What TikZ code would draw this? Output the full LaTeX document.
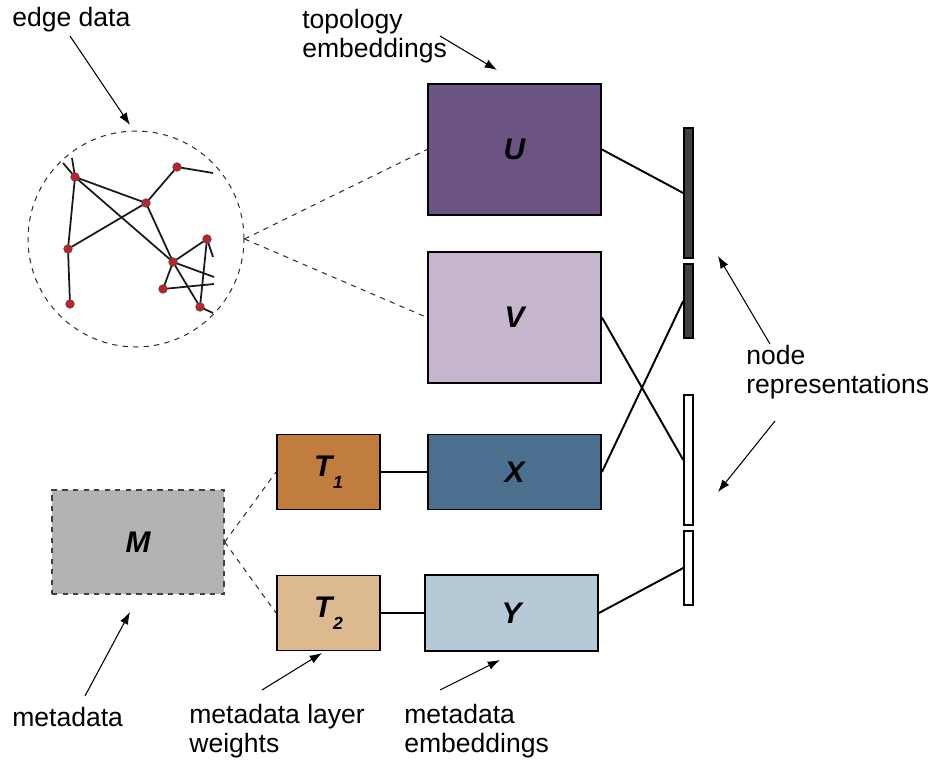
\documentclass[tikz,border=0pt]{standalone}
\usepackage{fontspec}
\setmainfont{Liberation Sans}
\usetikzlibrary{arrows, arrows.meta, positioning, calc}

\definecolor{topoU}{RGB}{107,84,131}
\definecolor{topoV}{RGB}{197,181,205}
\definecolor{metaX}{RGB}{74,111,143}
\definecolor{metaY}{RGB}{181,201,214}
\definecolor{layerA}{RGB}{192,125,62}
\definecolor{layerB}{RGB}{221,185,143}
\definecolor{metaM}{RGB}{179,179,179}
\definecolor{barDark}{RGB}{64,64,64}
\definecolor{dotRed}{RGB}{200,30,40}

% letter with a lowered index, as on the weight blocks
\newcommand{\lowidx}[2]{#1\kern0.5pt\raisebox{-7pt}{\fontsize{10}{10}\selectfont #2}}

\begin{document}
\begin{tikzpicture}[
    x=0.02cm, y=-0.02cm,
    box/.style={rectangle, draw, line width=1.1pt, font=\fontsize{17}{19}\selectfont\bfseries\itshape, inner sep=0pt},
    bigbox/.style={box, minimum width=3.46cm, minimum height=2.62cm},
    flatbox/.style={box, minimum width=3.46cm, minimum height=1.5cm},
    wbox/.style={box, minimum width=2.06cm, minimum height=1.5cm},
    bar/.style={rectangle, draw, line width=0.9pt, minimum width=0.18cm, inner sep=0pt},
    dot/.style={circle, draw=black!70, fill=dotRed, line width=0.4pt, minimum size=0.17cm, inner sep=0pt},
    link/.style={line width=1.1pt},
    gedge/.style={line width=1pt, black!90},
    hint/.style={draw, dashed, line width=0.6pt, black!80},
    label/.style={font=\fontsize{15.1}{16.5}\selectfont, align=left, inner sep=0pt},
    arrow/.style={-{Latex[length=7pt, width=5pt]}, line width=0.6pt}
]
\useasboundingbox (0,0) rectangle (940,763);

% topology and metadata blocks
\node[bigbox, fill=topoU] (U) at (514.5,149.5) {U};
\node[bigbox, fill=topoV] (V) at (514.5,317.5) {V};
\node[flatbox, fill=metaX] (X) at (514.5,472) {X};
\node[flatbox, fill=metaY, minimum height=1.52cm] (Y) at (511.5,613) {Y};
\node[wbox, fill=layerA] (T1) at (328.5,472) {\lowidx{T}{1}};
\node[wbox, fill=layerB] (T2) at (328.5,613) {\lowidx{T}{2}};
\node[box, dashed, line width=0.8pt, fill=metaM, draw=black!75, minimum width=3.44cm, minimum height=2.08cm] (M) at (138,542) {M};

% node representation bars
\node[bar, fill=barDark, minimum height=2.6cm] (bar1) at (688.5,193) {};
\node[bar, fill=barDark, minimum height=1.48cm] (bar2) at (688.5,301) {};
\node[bar, fill=white, minimum height=2.6cm] (bar3) at (688.5,460) {};
\node[bar, fill=white, minimum height=1.48cm] (bar4) at (688.5,568) {};

\draw[link] (U.east) -- (bar1.west);
\draw[link] (V.east) -- (bar3.west);
\draw[link] (X.east) -- (bar2.west);
\draw[link] (Y.east) -- (bar4.west);
\draw[link] (T1.east) -- (X.west);
\draw[link] (T2.east) -- (Y.west);
\draw[hint] (M.east) -- (T1.west);
\draw[hint] (M.east) -- (T2.west);

% edge data graph
\node[circle, hint, minimum size=4.32cm, inner sep=0pt] (graph) at (136,239) {};
\draw[hint] (graph.east) -- (U.west);
\draw[hint] (graph.east) -- (V.west);

\coordinate (s1) at (63,163);
\coordinate (s2) at (72,158);
\coordinate (s3) at (213,173);
\coordinate (s4) at (213,257);
\coordinate (s5) at (214,277);
\coordinate (s6) at (214,284);
\coordinate (s7) at (213,313);
\path (75,177) coordinate (pa) (146,203) coordinate (pb) (177,167) coordinate (pc)
      (68,249) coordinate (pd) (70,304) coordinate (pe) (173,262) coordinate (pf)
      (207,239) coordinate (pg) (163,289) coordinate (ph) (200,307) coordinate (pi);
\draw[gedge] (pa) -- (pd) -- (pe);
\draw[gedge] (pa) -- (pb) -- (pc) -- (s3);
\draw[gedge] (pa) -- (pf);
\draw[gedge] (pd) -- (pb) -- (pf);
\draw[gedge] (pa) -- (s1);
\draw[gedge] (pa) -- (s2);
\draw[gedge] (pf) -- (pg) -- (pi);
\draw[gedge] (pg) -- (s4);
\draw[gedge] (pf) -- (ph) -- (s6);
\draw[gedge] (pf) -- (pi) -- (s7);
\draw[gedge] (pf) -- (s5);
\foreach \p in {pa,pb,pc,pd,pe,pf,pg,ph,pi}
    \node[dot] (dot-\p) at (\p) {};

% annotations
\node[label, anchor=west] (edgelbl) at (12,20) {edge data};
\node[label, anchor=west] (topolbl) at (302,36) {topology\\embeddings};
\node[label, anchor=west] (reprlbl) at (746,372) {node\\representations};
\node[label, anchor=west] (metalbl) at (12,717) {metadata};
\node[label, anchor=west] (weightlbl) at (189,731) {metadata layer\\weights};
\node[label, anchor=west] (embedlbl) at (404,731) {metadata\\embeddings};

\coordinate (edgefrom) at (70,36);
\coordinate (edgeto) at (130,125);
\coordinate (topofrom) at (440,36);
\coordinate (topoto) at (497,70);
\coordinate (reprfromA) at (770,344);
\coordinate (reprtoA) at (718,256);
\coordinate (reprfromB) at (775,421);
\coordinate (reprtoB) at (718,492);
\coordinate (metafrom) at (85,696);
\coordinate (metato) at (130,612);
\coordinate (weightfrom) at (262,690);
\coordinate (weightto) at (322,653);
\coordinate (embedfrom) at (440,690);
\coordinate (embedto) at (500,660);

\draw[arrow] (edgefrom) -- (edgeto);
\draw[arrow] (topofrom) -- (topoto);
\draw[arrow] (reprfromA) -- (reprtoA);
\draw[arrow] (reprfromB) -- (reprtoB);
\draw[arrow] (metafrom) -- (metato);
\draw[arrow] (weightfrom) -- (weightto);
\draw[arrow] (embedfrom) -- (embedto);

\end{tikzpicture}
\end{document}
